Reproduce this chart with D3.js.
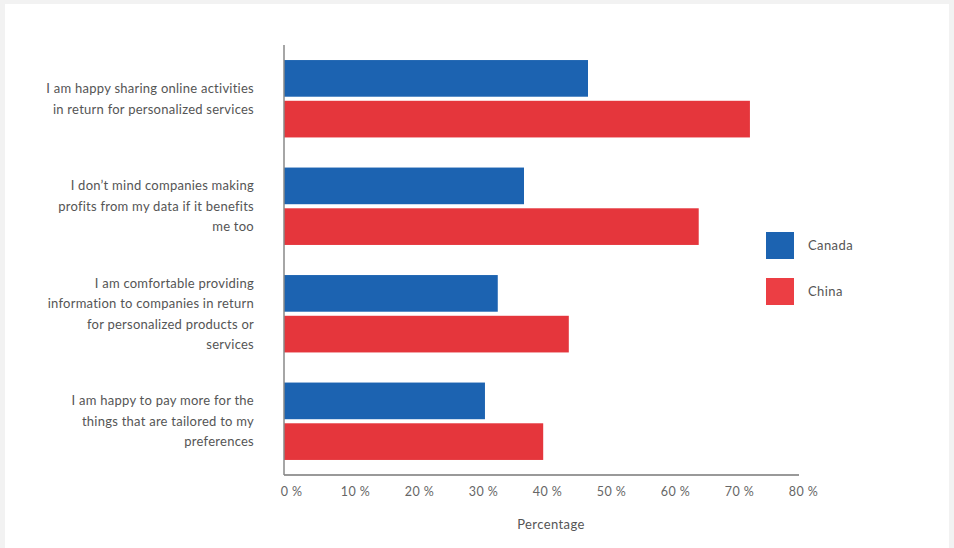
<!DOCTYPE html>
<html>
<head>
<meta charset="utf-8">
<script src="https://cdn.jsdelivr.net/npm/d3@7"></script>
<style>
  html, body { margin: 0; padding: 0; background: #f2f2f2; }
  svg { display: block; }
  text { font-family: Lato, "Open Sans", sans-serif; }
</style>
</head>
<body>
<svg id="chart" width="954" height="548"></svg>
<script>
const categories = [
  ["I am happy sharing online activities", "in return for personalized services"],
  ["I don\u2019t mind companies making", "profits from my data if it benefits", "me too"],
  ["I am comfortable providing", "information to companies in return", "for personalized products or", "services"],
  ["I am happy to pay more for the", "things that are tailored to my", "preferences"]
];
const seriesNames = ["Canada", "China"];
const canadaValues = [47.5, 37.5, 33.4, 31.4];
const chinaValues = [72.8, 64.8, 44.5, 40.5];
const xTicks = [0, 10, 20, 30, 40, 50, 60, 70, 80];
const xTitle = "Percentage";
const colors = ["#1c63b1", "#e5363c"];
const legendColors = ["#1c63b1", "#ec3e44"];

const svg = d3.select("#chart");
svg.append("rect").attr("x", 5).attr("y", 4).attr("width", 944).attr("height", 548)
  .attr("fill", "#ffffff");

const mLeft = 284, mRight = 799, mTop = 45, mBottom = 475;
const x = d3.scaleLinear().domain([0, 80]).range([mLeft, mLeft + 512]);
const y = d3.scaleBand().domain(d3.range(categories.length)).range([mTop, mBottom])
  .paddingInner(0.28).paddingOuter(0.14);
const ySub = d3.scaleBand().domain(seriesNames).range([0, y.bandwidth()]).paddingInner(0.1);

const data = categories.map((c, i) => ({ i, lines: c, values: [canadaValues[i], chinaValues[i]] }));

const groups = svg.selectAll("g.grp").data(data).join("g")
  .attr("class", "grp")
  .attr("transform", d => `translate(0,${y(d.i)})`);

groups.selectAll("rect").data(d => d.values.map((v, k) => ({ v, k })))
  .join("rect")
  .attr("x", x(0))
  .attr("y", d => ySub(seriesNames[d.k]))
  .attr("height", ySub.bandwidth())
  .attr("width", d => x(d.v) - x(0))
  .attr("fill", d => colors[d.k]);

// category labels
const lineH = 20.5;
groups.append("text")
  .attr("text-anchor", "end")
  .attr("fill", "#555")
  .attr("font-size", 13)
  .attr("letter-spacing", 0.25)
  .each(function(d) {
    const t = d3.select(this);
    const n = d.lines.length;
    d.lines.forEach((l, j) => {
      t.append("tspan").attr("x", 254)
        .attr("y", y.bandwidth() / 2 + (j - (n - 1) / 2) * lineH)
        .attr("dy", "0.35em")
        .text(l);
    });
  });

// axes
const xAxis = d3.axisBottom(x).tickValues(xTicks).tickFormat(d => d + " %").tickSize(0).tickPadding(12);
const gx = svg.append("g").attr("transform", `translate(7,${mBottom})`).call(xAxis);
gx.select(".domain").remove();
gx.selectAll("text").attr("fill", "#666").attr("font-size", 12.5).attr("letter-spacing", 0.4)
  .attr("font-family", "Lato, 'Open Sans', sans-serif");

svg.append("line").attr("x1", mLeft).attr("x2", mRight).attr("y1", mBottom).attr("y2", mBottom)
  .attr("stroke", "#777").attr("stroke-width", 1.5);
svg.append("line").attr("x1", mLeft).attr("x2", mLeft).attr("y1", mTop).attr("y2", mBottom)
  .attr("stroke", "#888").attr("stroke-width", 1.5);

svg.append("text").attr("x", 551).attr("y", 529).attr("text-anchor", "middle")
  .attr("fill", "#555").attr("font-size", 13).attr("letter-spacing", 0.4).text(xTitle);

// legend
const legend = svg.append("g").attr("transform", "translate(766,232)");
const li = legend.selectAll("g").data(seriesNames).join("g")
  .attr("transform", (d, i) => `translate(0,${i * 46})`);
li.append("rect").attr("width", 28).attr("height", 27).attr("fill", (d, i) => legendColors[i]);
li.append("text").attr("x", 42).attr("y", 13.5).attr("dy", "0.35em")
  .attr("fill", "#555").attr("font-size", 13).attr("letter-spacing", 0.4).text(d => d);
</script>
</body>
</html>
